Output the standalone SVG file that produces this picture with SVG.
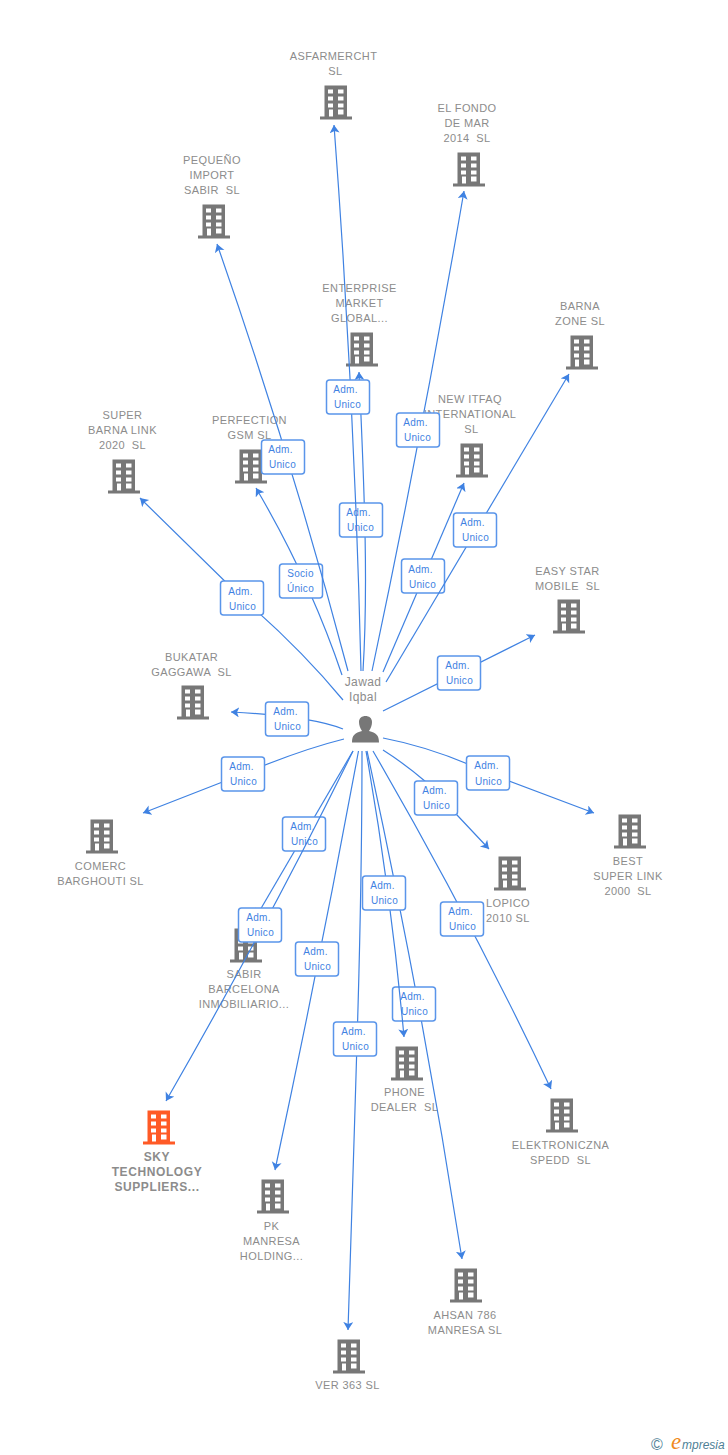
<svg xmlns="http://www.w3.org/2000/svg" width="728" height="1455" viewBox="0 0 728 1455">
<style>
.n{font:11px "Liberation Sans",Arial,sans-serif;fill:#8c8c8c;text-anchor:middle;letter-spacing:.4px;white-space:pre}
.sky{font-weight:bold;font-size:12px;letter-spacing:.6px}
.p{font-size:12px}
#connectors path{fill:none;stroke:#3f82e2;stroke-width:1.2;marker-end:url(#a)}
#connectors rect{fill:#fff;stroke:#5a95ea;stroke-width:1.5}
#connectors text{font:10px "Liberation Sans",Arial,sans-serif;fill:#3f82e2;text-anchor:middle;letter-spacing:.3px}
.bld{fill:#777}
.org{fill:#ff5a26}
</style>
<defs>
<marker id="a" markerWidth="12" markerHeight="12" refX="8" refY="5" orient="auto" markerUnits="userSpaceOnUse"><path d="M0,0 L8,5 L0,10 L2,5 Z" style="fill:#3f82e2;stroke:none"/></marker>
<path id="bd" transform="translate(0,.4)" fill-rule="evenodd" d="M-11.500,-34H11V-3H16V0H-16V-3H-11.500ZM-8,-30V-26H-3V-30ZM2,-30V-26H7.500V-30ZM-8,-23V-19H-3V-23ZM2,-23V-19H7.500V-23ZM-8,-16V-12H-3V-16ZM2,-16V-12H7.500V-16ZM-7,-10V-3H-3V-10ZM2,-10V-5H7.500V-10Z"/>
</defs>
<g id="n1"><use href="#bd" class="bld" x="336" y="119"/><text class="n" x="333.500" y="60">ASFARMERCHT</text><text class="n" x="335.500" y="75">SL</text></g>
<g id="n2"><use href="#bd" class="bld" x="469" y="186"/><text class="n" x="467" y="112">EL FONDO</text><text class="n" x="467" y="127">DE MAR</text><text class="n" x="467" y="142">2014  SL</text></g>
<g id="n3"><use href="#bd" class="bld" x="214" y="238"/><text class="n" x="212" y="164">PEQUEÑO</text><text class="n" x="212" y="179">IMPORT</text><text class="n" x="212" y="194">SABIR  SL</text></g>
<g id="n4"><use href="#bd" class="bld" x="362" y="366"/><text class="n" x="359.500" y="292">ENTERPRISE</text><text class="n" x="359.500" y="307">MARKET</text><text class="n" x="359.500" y="322">GLOBAL...</text></g>
<g id="n5"><use href="#bd" class="bld" x="582" y="369"/><text class="n" x="580" y="310">BARNA</text><text class="n" x="580" y="325">ZONE SL</text></g>
<g id="n6"><use href="#bd" class="bld" x="472" y="477"/><text class="n" x="470" y="403">NEW ITFAQ</text><text class="n" x="470" y="418">INTERNATIONAL</text><text class="n" x="471.500" y="433">SL</text></g>
<g id="n7"><use href="#bd" class="bld" x="251" y="483"/><text class="n" x="249.500" y="424">PERFECTION</text><text class="n" x="249.500" y="439">GSM SL</text></g>
<g id="n8"><use href="#bd" class="bld" x="124" y="493"/><text class="n" x="122.500" y="419">SUPER</text><text class="n" x="122.500" y="434">BARNA LINK</text><text class="n" x="122.500" y="449">2020  SL</text></g>
<g id="n9"><use href="#bd" class="bld" x="569" y="633"/><text class="n" x="567.500" y="575">EASY STAR</text><text class="n" x="567.500" y="590">MOBILE  SL</text></g>
<g id="n10"><use href="#bd" class="bld" x="193" y="719"/><text class="n" x="191.500" y="661">BUKATAR</text><text class="n" x="191.500" y="676">GAGGAWA  SL</text></g>
<g id="n11"><use href="#bd" class="bld" x="102" y="853"/><text class="n" x="100.500" y="870">COMERC</text><text class="n" x="100.500" y="885">BARGHOUTI SL</text></g>
<g id="n12"><use href="#bd" class="bld" x="630" y="848"/><text class="n" x="628" y="865">BEST</text><text class="n" x="628" y="880">SUPER LINK</text><text class="n" x="628" y="895">2000  SL</text></g>
<g id="n13"><use href="#bd" class="bld" x="510" y="890"/><text class="n" x="508" y="907">LOPICO</text><text class="n" x="508" y="922">2010 SL</text></g>
<g id="n14"><use href="#bd" class="bld" x="246" y="962"/><text class="n" x="244" y="978">SABIR</text><text class="n" x="244" y="993">BARCELONA</text><text class="n" x="244" y="1008">INMOBILIARIO...</text></g>
<g id="n15"><use href="#bd" class="bld" x="407" y="1080"/><text class="n" x="404.500" y="1096">PHONE</text><text class="n" x="404.500" y="1111">DEALER  SL</text></g>
<g id="n16"><use href="#bd" class="bld" x="562" y="1132"/><text class="n" x="560.500" y="1149">ELEKTRONICZNA</text><text class="n" x="560.500" y="1164">SPEDD  SL</text></g>
<g id="n17"><use href="#bd" class="org" x="159" y="1144"/><text class="n sky" x="157" y="1161">SKY</text><text class="n sky" x="157" y="1176">TECHNOLOGY</text><text class="n sky" x="157" y="1191">SUPPLIERS...</text></g>
<g id="n18"><use href="#bd" class="bld" x="273" y="1213"/><text class="n" x="271.500" y="1230">PK</text><text class="n" x="271.500" y="1245">MANRESA</text><text class="n" x="271.500" y="1260">HOLDING...</text></g>
<g id="n19"><use href="#bd" class="bld" x="466" y="1302"/><text class="n" x="465" y="1319">AHSAN 786</text><text class="n" x="465" y="1334">MANRESA SL</text></g>
<g id="n20"><use href="#bd" class="bld" x="349" y="1373"/><text class="n" x="347.500" y="1389">VER 363 SL</text></g>
<g id="person"><text class="n p" x="363" y="686">Jawad</text><text class="n p" x="363" y="701">Iqbal</text>
<path fill="#777" d="M352,742.500C352,735 355,733 362,731C360,728 359,725 359,722C359,718 362,716 365.500,716C369,716 372,718 372,722C372,725 371,728 369,731C376,733 379,735 379,742.500Z"/></g>
<g id="connectors">
<g id="e-enterprise"><path d="M363,671C368,590 365,500 359,372"/><rect x="339.500" y="503" width="43" height="34" rx="3"/><text x="358.500" y="516">Adm.</text><text x="360.500" y="531">Unico</text></g>
<g id="e-asfarmercht"><path d="M361,671Q354.500,397 334,125"/><rect x="326.500" y="380" width="43" height="34" rx="3"/><text x="345.500" y="393">Adm.</text><text x="347.500" y="408">Unico</text></g>
<g id="e-elfondo"><path d="M372,671Q423,430 464,191"/><rect x="396.500" y="413" width="43" height="34" rx="3"/><text x="415.500" y="426">Adm.</text><text x="417.500" y="441">Unico</text></g>
<g id="e-perfection"><path d="M342,675Q310,580 256,488"/><rect x="279.500" y="564" width="43" height="34" rx="3"/><text x="300.500" y="577">Socio</text><text x="300.500" y="592">Único</text></g>
<g id="e-pequeno"><path d="M348,671Q291.500,457 217,244"/><rect x="261.500" y="440" width="43" height="34" rx="3"/><text x="280.500" y="453">Adm.</text><text x="282.500" y="468">Unico</text></g>
<g id="e-itfaq"><path d="M383,672L464,483"/><rect x="401.500" y="559" width="43" height="34" rx="3"/><text x="420.500" y="573">Adm.</text><text x="422.500" y="588">Unico</text></g>
<g id="e-barna"><path d="M386,682L569,374"/><rect x="453.500" y="513" width="43" height="34" rx="3"/><text x="472.500" y="526">Adm.</text><text x="475.500" y="541">Unico</text></g>
<g id="e-super"><path d="M343,700Q300,648 242,598L140,498"/><rect x="220.500" y="581" width="43" height="34" rx="3"/><text x="240.500" y="595">Adm.</text><text x="242.500" y="610">Unico</text></g>
<g id="e-easy"><path d="M383,711L535,635"/><rect x="437.500" y="656" width="43" height="34" rx="3"/><text x="457.500" y="669">Adm.</text><text x="459.500" y="684">Unico</text></g>
<g id="e-bukatar"><path d="M343,729Q310,716 231,712"/><rect x="265.500" y="702" width="43" height="34" rx="3"/><text x="285.500" y="715">Adm.</text><text x="287.500" y="730">Unico</text></g>
<g id="e-comerc"><path d="M344,739Q300,750 243,774L143,813"/><rect x="221.500" y="757" width="43" height="34" rx="3"/><text x="241.500" y="770">Adm.</text><text x="243.500" y="785">Unico</text></g>
<g id="e-best"><path d="M383,738Q435,748 488,773L594,813"/><rect x="466.500" y="756" width="43" height="34" rx="3"/><text x="486.500" y="769">Adm.</text><text x="488.500" y="785">Unico</text></g>
<g id="e-lopico"><path d="M383,750Q405,764 426,782L489,849"/><rect x="414.500" y="781" width="43" height="34" rx="3"/><text x="434.500" y="794">Adm.</text><text x="436.500" y="809">Unico</text></g>
<g id="e-sabir"><path d="M353,751L256,917"/><rect x="282.500" y="817" width="43" height="34" rx="3"/><text x="302.500" y="830">Adm.</text><text x="304.500" y="845">Unico</text></g>
<g id="e-sky"><path d="M353,751Q270,920 166,1101"/><rect x="238.500" y="908" width="43" height="34" rx="3"/><text x="258.500" y="921">Adm.</text><text x="260.500" y="936">Unico</text></g>
<g id="e-pk"><path d="M358.500,751Q320,960 275,1170"/><rect x="295.500" y="942" width="43" height="34" rx="3"/><text x="315.500" y="955">Adm.</text><text x="317.500" y="970">Unico</text></g>
<g id="e-ahsan"><path d="M367,751Q422.500,1005 462,1259"/><rect x="392.500" y="987" width="43" height="34" rx="3"/><text x="412.500" y="1000">Adm.</text><text x="414.500" y="1015">Unico</text></g>
<g id="e-phone"><path d="M366,751Q391,893 404,1037"/><rect x="362.500" y="876" width="43" height="34" rx="3"/><text x="382.500" y="889">Adm.</text><text x="384.500" y="904">Unico</text></g>
<g id="e-ver"><path d="M362,751C362,900 358,1020 348,1330"/><rect x="333.500" y="1022" width="43" height="34" rx="3"/><text x="353.500" y="1035">Adm.</text><text x="355.500" y="1050">Unico</text></g>
<g id="e-elektro"><path d="M373,751Q471,920 551,1089"/><rect x="440.500" y="902" width="43" height="34" rx="3"/><text x="460.500" y="915">Adm.</text><text x="462.500" y="930">Unico</text></g>
</g>
<g id="logo"><text x="651" y="1450" style="font:16px 'Liberation Sans',sans-serif;fill:#4f7f96">©</text><text x="671" y="1449" style="font:italic 23px 'Liberation Serif',serif;fill:#f08a1d">e</text><text x="682" y="1449" style="font:italic 12px 'Liberation Sans',sans-serif;fill:#4f7f96">mpresia</text></g>
</svg>
